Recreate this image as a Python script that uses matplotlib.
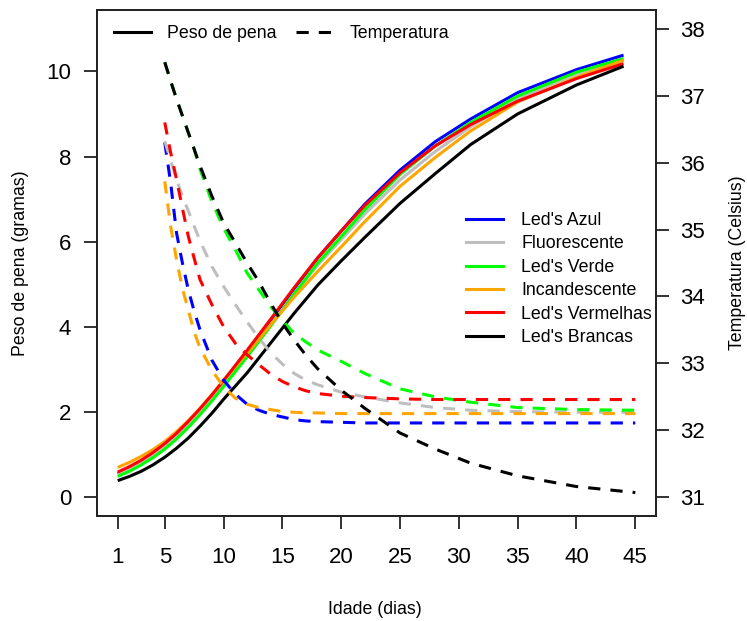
import numpy as np
import matplotlib
matplotlib.use("Agg")
import matplotlib.pyplot as plt
from matplotlib.lines import Line2D

plt.rcParams['font.family'] = ['Liberation Sans', 'DejaVu Sans']

# Peso de pena (gramas) - solid curves
dias_peso = [1, 2, 3, 4, 5, 6, 7, 8, 9, 10, 12, 14, 16, 18, 20, 22, 25, 28, 31, 35, 40, 44]
peso_azul = [0.55, 0.68, 0.83, 1.01, 1.22, 1.46, 1.74, 2.04, 2.36, 2.70, 3.40, 4.15, 4.90, 5.62, 6.25,
             6.88, 7.68, 8.35, 8.88, 9.50, 10.04, 10.38]
peso_fluor = [0.53, 0.66, 0.81, 0.99, 1.19, 1.43, 1.70, 2.00, 2.32, 2.65, 3.33, 4.05, 4.77, 5.45, 6.05,
              6.65, 7.45, 8.12, 8.70, 9.36, 9.93, 10.28]
peso_verde = [0.49, 0.61, 0.76, 0.93, 1.13, 1.37, 1.64, 1.94, 2.26, 2.60, 3.30, 4.02, 4.77, 5.50, 6.12,
              6.75, 7.58, 8.25, 8.80, 9.42, 9.98, 10.30]
peso_incand = [0.70, 0.82, 0.96, 1.12, 1.31, 1.54, 1.80, 2.09, 2.41, 2.75, 3.38, 4.05, 4.70, 5.30, 5.88,
               6.47, 7.30, 7.98, 8.60, 9.28, 9.86, 10.26]
peso_verm = [0.59, 0.72, 0.87, 1.05, 1.26, 1.50, 1.78, 2.08, 2.40, 2.74, 3.45, 4.18, 4.92, 5.62, 6.25,
             6.85, 7.62, 8.25, 8.75, 9.30, 9.83, 10.18]
peso_branc = [0.39, 0.49, 0.61, 0.76, 0.94, 1.15, 1.39, 1.67, 1.97, 2.30, 2.92, 3.62, 4.32, 4.98, 5.55,
              6.10, 6.90, 7.60, 8.28, 9.00, 9.68, 10.12]

# Temperatura (Celsius) - dashed curves
dias_temp = [5, 5.5, 6, 6.5, 7, 7.5, 8, 9, 10, 11, 12, 13, 14, 15, 16, 17, 18, 20, 22, 25, 28, 31, 35, 40, 45]
temp_azul = [36.30, 35.70, 34.95, 34.50, 34.10, 33.78, 33.50, 33.05, 32.75, 32.54, 32.39, 32.30, 32.24, 32.20,
             32.16, 32.14, 32.13, 32.12, 32.11, 32.11, 32.11, 32.11, 32.11, 32.11, 32.11]
temp_fluor = [36.32, 36.03, 35.75, 35.50, 35.28, 35.05, 34.83, 34.45, 34.15, 33.88, 33.62, 33.38, 33.16, 32.99,
              32.85, 32.75, 32.68, 32.57, 32.50, 32.41, 32.34, 32.30, 32.28, 32.27, 32.27]
temp_verde = [37.50, 37.22, 36.95, 36.70, 36.45, 36.20, 35.90, 35.42, 35.02, 34.70, 34.35, 34.10, 33.85, 33.64,
              33.45, 33.32, 33.20, 33.03, 32.85, 32.62, 32.50, 32.42, 32.34, 32.31, 32.30]
temp_incand = [35.72, 35.05, 34.55, 34.12, 33.80, 33.47, 33.23, 32.90, 32.65, 32.48, 32.39, 32.34, 32.31, 32.28,
               32.27, 32.26, 32.26, 32.25, 32.25, 32.25, 32.25, 32.25, 32.25, 32.25, 32.25]
temp_verm = [36.60, 36.15, 35.75, 35.32, 34.90, 34.57, 34.25, 33.88, 33.55, 33.30, 33.13, 32.98, 32.84, 32.73,
             32.65, 32.59, 32.55, 32.51, 32.49, 32.47, 32.46, 32.46, 32.46, 32.46, 32.46]
temp_branc = [37.50, 37.22, 36.95, 36.70, 36.45, 36.20, 35.95, 35.50, 35.10, 34.80, 34.50, 34.22, 33.90, 33.60,
              33.35, 33.12, 32.92, 32.60, 32.33, 31.96, 31.72, 31.51, 31.32, 31.16, 31.07]

tratamentos = ["Led's Azul", "Fluorescente", "Led's Verde", "Incandescente", "Led's Vermelhas", "Led's Brancas"]
cores = ['#0000FF', '#BEBEBE', '#00FF00', '#FFA500', '#FF0000', '#000000']
pesos = [peso_azul, peso_fluor, peso_verde, peso_incand, peso_verm, peso_branc]
temps = [temp_azul, temp_fluor, temp_verde, temp_incand, temp_verm, temp_branc]

W, H = 747, 621
fig = plt.figure(figsize=(W / 100, H / 100), dpi=100)
ax = fig.add_axes([97 / W, 1 - 516 / H, (656 - 97) / W, (516 - 10) / H])
ax2 = ax.twinx()

lw = 2.2
dash = (0, (4.0, 3.3))
for p, c in zip(pesos, cores):
    ax.plot(dias_peso, p, color=c, lw=lw, solid_capstyle='butt', solid_joinstyle='round')
for t, c in zip(temps, cores):
    ax2.plot(dias_temp, t, color=c, lw=lw, linestyle=dash, dash_capstyle='butt')

ax.set_xlim(-0.76, 46.76)
ax.set_ylim(-0.44, 11.44)
ax2.set_ylim(30.72, 38.28)
ax.set_xticks([1, 5, 10, 15, 20, 25, 30, 35, 40, 45])
ax.set_yticks([0, 2, 4, 6, 8, 10])
ax2.set_yticks([31, 32, 33, 34, 35, 36, 37, 38])

for a in (ax, ax2):
    for s in a.spines.values():
        s.set_linewidth(1.3)
        s.set_color('#222222')
ax.tick_params(axis='x', length=9.5, width=1.3, pad=13, labelsize=16, color='#222222')
ax.tick_params(axis='y', length=9.5, width=1.3, pad=9, labelsize=16, color='#222222')
ax2.tick_params(axis='y', length=9.5, width=1.3, pad=8, labelsize=16, color='#222222')

fig.text(375 / W, 1 - 610 / H, 'Idade (dias)', ha='center', va='center', fontsize=12.8)
fig.text(21 / W, 1 - 263 / H, 'Peso de pena (gramas)', ha='center', va='center',
         rotation=90, fontsize=12.8)
fig.text(737 / W, 1 - 263 / H, 'Temperatura (Celsius)', ha='center', va='center',
         rotation=90, fontsize=12.8)

# legenda superior
h1 = [Line2D([], [], color='black', lw=lw),
      Line2D([], [], color='black', lw=lw, linestyle=dash)]
leg1 = ax2.legend(h1, ['Peso de pena', 'Temperatura'], ncol=2, frameon=False,
                  loc='center left', bbox_to_anchor=(114 / W, 1 - 34 / H),
                  bbox_transform=fig.transFigure, fontsize=12.8, handlelength=2.1,
                  handletextpad=0.9, columnspacing=1.1, borderpad=0, borderaxespad=0)
ax2.add_artist(leg1)

h2 = [Line2D([], [], color=c, lw=lw) for c in cores]
ax2.legend(h2, tratamentos, frameon=False, loc='upper left',
           bbox_to_anchor=(466 / W, 1 - 212 / H), bbox_transform=fig.transFigure,
           fontsize=12.8, handlelength=2.1, handletextpad=1.0, labelspacing=0.36,
           borderpad=0, borderaxespad=0)

fig.savefig('out.png', dpi=100)
